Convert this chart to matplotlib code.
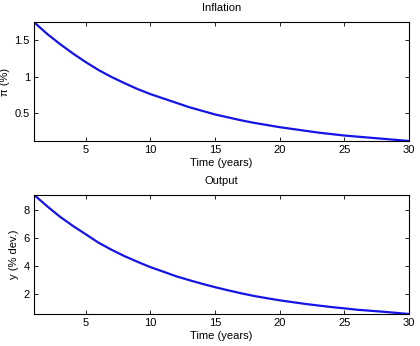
import matplotlib
matplotlib.use("Agg")
import matplotlib.pyplot as plt

years = list(range(1, 31))
inflation = [1.75, 1.59, 1.45, 1.32, 1.20, 1.09, 0.995, 0.91, 0.83, 0.76,
             0.70, 0.64, 0.58, 0.53, 0.48, 0.44, 0.40, 0.365, 0.335, 0.305,
             0.28, 0.255, 0.23, 0.21, 0.19, 0.175, 0.16, 0.145, 0.13, 0.115]
output = [9.05, 8.25, 7.5, 6.85, 6.25, 5.65, 5.15, 4.7, 4.3, 3.92,
          3.6, 3.27, 3.0, 2.74, 2.5, 2.28, 2.07, 1.88, 1.72, 1.57,
          1.44, 1.31, 1.2, 1.09, 1.0, 0.9, 0.83, 0.76, 0.68, 0.6]

xticks = [5, 10, 15, 20, 25, 30]
infl_ticks = [0.5, 1, 1.5]
infl_ticklabels = ["0.5", "1", "1.5"]
out_ticks = [2, 4, 6, 8]

plt.rcParams['font.family'] = ['Liberation Sans', 'DejaVu Sans']

fig = plt.figure(figsize=(4.2, 3.46), dpi=100)
ax1 = fig.add_axes([0.081, 0.5925, 0.893, 0.3435])
ax2 = fig.add_axes([0.081, 0.0925, 0.893, 0.3445])

FS = 8

def style(ax):
    ax.tick_params(direction='in', top=True, right=True, labelsize=FS,
                   length=3, width=0.6, pad=3)
    for s in ax.spines.values():
        s.set_linewidth(0.8)
    ax.set_xlim(1, 30)
    ax.set_xticks(xticks)
    ax.set_xlabel("Time (years)", fontsize=FS, labelpad=2)

ax1.plot(years, inflation, color=(0.08, 0.08, 0.9), lw=1.6)
style(ax1)
ax1.set_ylim(min(inflation), max(inflation))
ax1.set_yticks(infl_ticks)
ax1.set_yticklabels(infl_ticklabels)
ax1.set_ylabel("π (%)", fontsize=FS, labelpad=3)
ax1.set_title("Inflation", fontsize=FS, pad=8)

ax2.plot(years, output, color=(0.08, 0.08, 0.9), lw=1.6)
style(ax2)
ax2.set_ylim(min(output), max(output))
ax2.set_yticks(out_ticks)
ax2.set_ylabel("y (% dev.)", fontsize=FS, labelpad=3)
ax2.set_title("Output", fontsize=FS, pad=8)

fig.savefig("out.png", dpi=100)
